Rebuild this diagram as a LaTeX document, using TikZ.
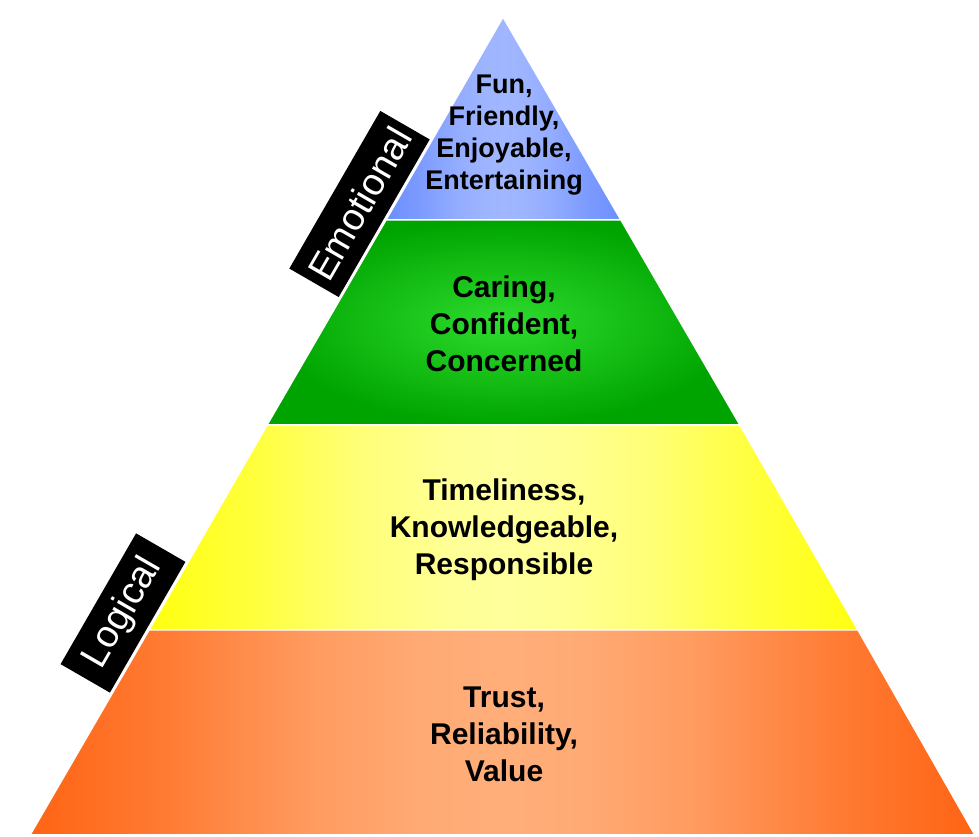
\documentclass[tikz,border=0pt]{standalone}
\usepackage{fontspec}
\setmainfont{Liberation Sans}
\definecolor{funin}{HTML}{A0B6FF}
\definecolor{funout}{HTML}{6C8FFF}
\definecolor{carein}{HTML}{2EDC2E}
\definecolor{careout}{HTML}{00A400}
\definecolor{timein}{HTML}{FFFF9C}
\definecolor{timeout}{HTML}{FFFF10}
\definecolor{trustin}{HTML}{FFAE7A}
\definecolor{trustout}{HTML}{FF6414}
% light middle, darker sides
\newcommand{\levelshading}[3]{%
    \pgfdeclarehorizontalshading{#1}{100bp}{color(0bp)=(#3); color(25bp)=(#3);
        color(32bp)=(#2!30!#3); color(40bp)=(#2!75!#3); color(46bp)=(#2!95!#3);
        color(50bp)=(#2); color(54bp)=(#2!95!#3); color(60bp)=(#2!75!#3);
        color(68bp)=(#2!30!#3); color(75bp)=(#3); color(100bp)=(#3)}}
\levelshading{funshade}{funin}{funout}
\levelshading{timeshade}{timein}{timeout}
\levelshading{trustshade}{trustin}{trustout}
\begin{document}
\begin{tikzpicture}[x=1pt, y=1pt,
    level/.style={draw=white, line width=1.5pt},
    words/.style={align=center, font=\bfseries\fontsize{30}{37}\selectfont},
    side/.style={fill=black, text=white, rotate=60, minimum height=57pt,
        inner sep=0pt, font=\fontsize{38}{42}\selectfont}]
    \useasboundingbox (0,0) rectangle (979,837);

    % Define levels
    \shadedraw[level, shading=funshade]
        (386,617) -- (503,820) -- (621,617) -- cycle;
    \shadedraw[level, inner color=carein, outer color=careout]
        (267,412) -- (386,617) -- (621,617) -- (740,412) -- cycle;
    \shadedraw[level, shading=timeshade]
        (149,207) -- (267,412) -- (740,412) -- (858,207) -- cycle;
    \shadedraw[level, shading=trustshade]
        (30,2) -- (149,207) -- (858,207) -- (975,2) -- cycle;

    % Level texts
    \node[words, font=\bfseries\fontsize{27}{32}\selectfont] (fun) at (504,702)
        {Fun,\\Friendly,\\Enjoyable,\\Entertaining};
    \node[words] (caring) at (504,513) {Caring,\\Confident,\\Concerned};
    \node[words] (timely) at (504,307) {Timeliness,\\Knowledgeable,\\Responsible};
    \node[words] (trust) at (504,103) {Trust,\\Reliability,\\Value};

    % Side labels
    \node[side, minimum width=182pt] (emotional) at (359.5,633) {Emotional};
    \node[side, minimum width=151pt] (logical) at (123,224) {Logical};
\end{tikzpicture}
\end{document}
